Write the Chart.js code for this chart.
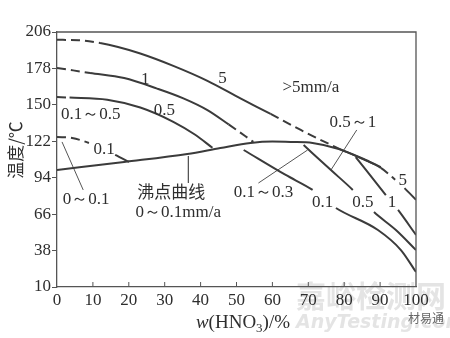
<!DOCTYPE html>
<html>
<head>
<meta charset="utf-8">
<script src="https://cdn.jsdelivr.net/npm/chart.js@4/dist/chart.umd.min.js"></script>
<style>
  html, body { margin: 0; padding: 0; background: #fff; }
  #wrap { width: 450px; height: 338px; }
</style>
</head>
<body>
<div id="wrap"><canvas id="chart" width="450" height="338"></canvas></div>
<script>
// iso-corrosion curves: x = HNO3 content (%), y = temperature (°C)
const xTicks = [0, 10, 20, 30, 40, 50, 60, 70, 80, 90, 100];
const yTicks = [10, 38, 66, 94, 122, 150, 178, 206];

// boiling point curve
const boilX = [0, 18.7, 36.3, 45.5, 53.9, 60, 65.1, 71.2, 78.5, 86, 90.2];
const boilY = [100, 106.1, 112.2, 116.8, 120.7, 121.8, 121.5, 120.7, 116.1, 107.6, 102.2];

// 5 mm/a
const curve5X = [0, 6, 12, 17, 23.2, 32.4, 41.9, 51.1, 59.5, 67.9, 78.2, 84.6, 90.2, 94.2, 96.8, 100];
const curve5Y = [200, 199.7, 197.5, 194.5, 189.5, 180, 168.5, 155, 143, 130.7, 116.8, 109, 101.5, 92.5, 86, 77];

// 1 mm/a (above boiling)
const curve1X = [0, 4.5, 9.2, 18.7, 27.9, 35.2, 41.9, 47.8, 54.7];
const curve1Y = [178.3, 176.5, 174.5, 170.6, 162.5, 155, 146, 135, 121.5];

// 0.5 mm/a (above boiling)
const curve05X = [0, 3.5, 14, 23.2, 32.4, 38.5, 43.3];
const curve05Y = [156, 155.6, 154, 148, 137, 127, 117];

// 0.1 mm/a (above boiling)
const curve01X = [0, 4.2, 8.9, 16.2, 20.1];
const curve01Y = [125.3, 124.5, 120.7, 111.5, 106.1];

// curves below the boiling line, high concentration side
const low01X = [52, 63.7, 71.2, 77.7, 89.4, 95.8, 100];
const low01Y = [115.3, 96.1, 84.6, 70.7, 53.8, 38.4, 21.5];
const low05X = [68.7, 76.3, 82.4, 88.3, 94.4, 100];
const low05Y = [119.1, 99.9, 84.6, 67.6, 53.8, 38.4];
const low1X = [83.2, 91.6, 95, 100];
const low1Y = [109.9, 80.7, 69.2, 50];

// segment kinds: s = solid, d = dashed, g = gap left for a label
const curve5Seg = ['d','d','s','s','s','s','s','s','d','d','s','s','d','g','s'];
const curve1Seg = ['d','d','s','s','s','s','s','d'];
const curve05Seg = ['d','s','s','s','s','s'];
const curve01Seg = ['d','d','g','s'];
const low01Seg = ['s','s','g','s','s','s'];
const low05Seg = ['s','s','g','s','s'];
const low1Seg = ['s','g','s'];

// leader lines from the region labels
const leaders = [
  [[1.4, 121.5], [7.3, 84.6]],
  [[36.6, 110.7], [36.6, 90]],
  [[56.1, 89.9], [69.8, 115.3]],
  [[83.5, 130.7], [76.3, 99.9]]
];

const labelText = ['5', '1', '0.5', '0.1～0.5', '0.1', '>5mm/a', '0.5～1', '0.1～0.3',
  '0.1', '0.5', '1', '5', '0～0.1', '沸点曲线', '0～0.1mm/a'];
const labelX = [46.1, 24.6, 29.9, 9.4, 13.1, 70.7, 82.4, 57.5, 74, 85.2, 93.3, 96.3, 8.1, 31.8, 33.8];
const labelY = [170.6, 169.1, 146, 142.2, 115.3, 163.7, 136.1, 82.3, 75.3, 75.3, 75.3, 92.2, 76.9, 83, 67.6];

const ink = '#3b3b3b';
const serif = '"Liberation Serif", "DejaVu Serif", serif';
const cjk = '"Noto Sans CJK SC", sans-serif';

function pts(xs, ys) {
  return xs.map((x, i) => ({ x: x, y: ys[i] }));
}

function curve(xs, ys, seg) {
  return {
    data: pts(xs, ys),
    borderColor: ink,
    borderWidth: 2,
    pointRadius: 0,
    cubicInterpolationMode: 'monotone',
    segment: {
      borderDash: c => seg && seg[c.p0DataIndex] === 'd' ? [9, 5] : [],
      borderColor: c => seg && seg[c.p0DataIndex] === 'g' ? 'rgba(0,0,0,0)' : ink
    }
  };
}

const datasets = [
  curve(boilX, boilY, null),
  curve(curve5X, curve5Y, curve5Seg),
  curve(curve1X, curve1Y, curve1Seg),
  curve(curve05X, curve05Y, curve05Seg),
  curve(curve01X, curve01Y, curve01Seg),
  curve(low01X, low01Y, low01Seg),
  curve(low05X, low05Y, low05Seg),
  curve(low1X, low1Y, low1Seg)
];

leaders.forEach(l => {
  datasets.push({
    data: l.map(p => ({ x: p[0], y: p[1] })),
    borderColor: '#555',
    borderWidth: 1,
    pointRadius: 0,
    tension: 0
  });
});

const decor = {
  id: 'decor',
  beforeDraw(chart) {
    const c = chart.ctx;
    c.save();
    // faint site watermark
    c.fillStyle = 'rgba(205,205,205,0.55)';
    c.font = 'bold 30px ' + cjk;
    c.textAlign = 'left';
    c.textBaseline = 'middle';
    c.fillText('嘉峪检测网', 296, 296);
    c.font = 'italic bold 19px "DejaVu Sans", sans-serif';
    c.fillText('AnyTesting.com', 296, 323);
    c.fillStyle = '#666';
    c.font = '12px ' + cjk;
    c.fillText('材易通', 408, 318);
    c.restore();
  },
  afterDatasetsDraw(chart) {
    const c = chart.ctx;
    const xs = chart.scales.x, ys = chart.scales.y;
    const a = chart.chartArea;
    c.save();
    // top and right frame
    c.strokeStyle = '#555';
    c.lineWidth = 1.3;
    c.beginPath();
    c.moveTo(a.left, a.top);
    c.lineTo(a.right, a.top);
    c.lineTo(a.right, a.bottom);
    c.stroke();
    // inward ticks on the x axis
    c.lineWidth = 1;
    xTicks.slice(1, -1).forEach(v => {
      const px = xs.getPixelForValue(v);
      c.beginPath();
      c.moveTo(px, a.bottom);
      c.lineTo(px, a.bottom - 5);
      c.stroke();
    });
    // curve and region labels
    c.fillStyle = '#2e2e2e';
    c.textAlign = 'center';
    c.textBaseline = 'middle';
    labelText.forEach((t, i) => {
      c.font = /[\u4e00-\u9fff]/.test(t) ? '17px ' + cjk : '17px ' + serif;
      if (/～/.test(t)) c.font = '17px ' + serif;
      c.fillText(t, xs.getPixelForValue(labelX[i]), ys.getPixelForValue(labelY[i]));
    });
    // axis titles
    c.fillStyle = '#2e2e2e';
    c.textAlign = 'left';
    c.textBaseline = 'alphabetic';
    const parts = [
      ['italic 19px ' + serif, 'w', 0],
      ['19px ' + serif, '(HNO', 0],
      ['13px ' + serif, '3', 4],
      ['19px ' + serif, ')/%', 0]
    ];
    let total = 0;
    parts.forEach(p => { c.font = p[0]; total += c.measureText(p[1]).width; });
    let x = 243 - total / 2;
    parts.forEach(p => {
      c.font = p[0];
      c.fillText(p[1], x, 328 + p[2]);
      x += c.measureText(p[1]).width;
    });
    c.translate(16, 150);
    c.rotate(-Math.PI / 2);
    c.textAlign = 'center';
    c.textBaseline = 'middle';
    c.font = '17px ' + cjk;
    c.fillText('温度/℃', 0, 0);
    c.restore();
  }
};

new Chart(document.getElementById('chart'), {
  type: 'line',
  data: { datasets: datasets },
  options: {
    responsive: false,
    animation: false,
    events: [],
    layout: { padding: { left: 0, right: 34, top: 32, bottom: 0 } },
    plugins: { legend: { display: false }, tooltip: { enabled: false } },
    scales: {
      x: {
        type: 'linear',
        min: 0,
        max: 100,
        afterBuildTicks: s => { s.ticks = xTicks.map(v => ({ value: v })); },
        afterFit: s => { s.height = 51; },
        grid: { drawOnChartArea: false, drawTicks: false },
        border: { color: '#555', width: 1.3 },
        ticks: { padding: 3, color: '#2e2e2e', font: { family: serif, size: 17 } }
      },
      y: {
        type: 'linear',
        min: 10,
        max: 206,
        afterBuildTicks: s => { s.ticks = yTicks.map(v => ({ value: v })); },
        afterFit: s => { s.width = 57; },
        grid: { drawOnChartArea: false, drawTicks: true, tickLength: 5, color: '#555' },
        border: { color: '#555', width: 1.3 },
        ticks: { padding: 1, color: '#2e2e2e', font: { family: serif, size: 17 } }
      }
    }
  },
  plugins: [decor]
});
</script>
</body>
</html>
